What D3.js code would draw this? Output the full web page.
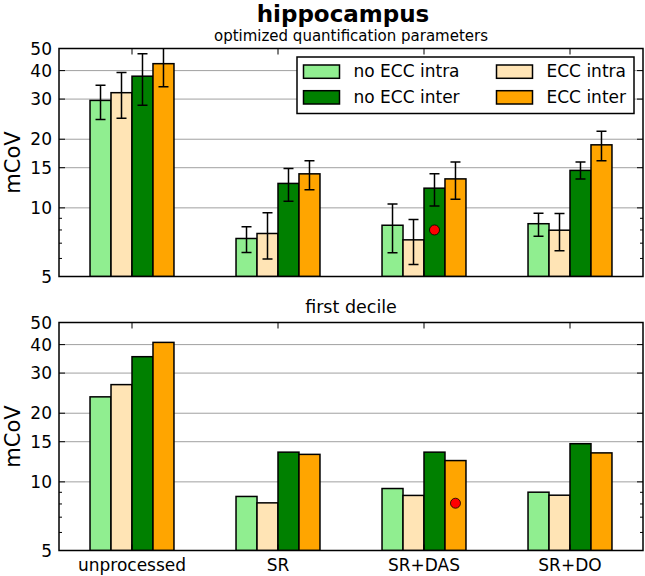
<!DOCTYPE html>
<html><head><meta charset="utf-8">
<script src="https://cdn.jsdelivr.net/npm/d3@7"></script>
<style>body{margin:0;background:#fff}svg{display:block}text{font-family:"DejaVu Sans",sans-serif;fill:#000}</style>
</head><body><svg id="c" width="645" height="576"></svg>
<script>
const categories = ["unprocessed", "SR", "SR+DAS", "SR+DO"];
const series = ["no ECC intra", "ECC intra", "no ECC inter", "ECC inter"];
const colors = ["#90EE90", "#FFE4B5", "#008000", "#FFA500"];
// top panel: mean and error bar extents (per category, per series)
const topValues = [[29.6, 32.0, 37.8, 42.9],[7.34, 7.72, 12.8, 14.1],[8.39, 7.24, 12.2, 13.4],[8.52, 7.98, 14.6, 18.9]];
const topLower  = [[24.4, 24.7, 28.2, 34.0],[6.37, 5.96, 10.7, 12.0],[6.35, 5.64, 10.2, 10.9],[7.51, 6.48, 13.4, 16.1]];
const topUpper  = [[34.5, 39.2, 47.4, 54.0],[8.26, 9.51, 14.9, 16.1],[10.4, 8.89, 14.1, 15.9],[9.48, 9.45, 15.9, 21.7]];
// bottom panel: first decile
const bottomValues = [[23.6, 26.7, 35.4, 40.9],[8.63, 8.09, 13.5, 13.2],[9.35, 8.72, 13.5, 12.4],[9.01, 8.74, 14.7, 13.4]];
// red markers: [category, series, value]
const topMarker = ["SR+DAS", "no ECC inter", 8.0];
const bottomMarker = ["SR+DAS", "ECC inter", 8.06];
const yTicks = [5, 10, 15, 20, 30, 40, 50];
const yMinor = [6, 7, 8, 9];
const gridVals = [10, 15, 20, 30, 40];

const svg = d3.select("#c");
const L = 59, R = 643;
const panels = [
  {top: 48.5, bottom: 276.5, values: topValues, lower: topLower, upper: topUpper, marker: topMarker, title: "optimized quantification parameters", titleY: 41, titleSize: 15, xlabels: false},
  {top: 322.5, bottom: 550.5, values: bottomValues, marker: bottomMarker, title: "first decile", titleY: 313, titleSize: 17.5, xlabels: true}
];

svg.append("text").attr("x", 343).attr("y", 22).attr("text-anchor", "middle")
  .style("font-size", "23px").style("font-weight", "bold").text("hippocampus");

const x = d3.scaleBand().domain(categories).range([L, R]).padding(0);
const bw = x.bandwidth();
const gw = bw * 0.575;
const xs = d3.scaleBand().domain(series).range([bw/2 - gw/2, bw/2 + gw/2]).padding(0);

panels.forEach((p, pi) => {
  const y = d3.scaleLog().domain([5, 50]).range([p.bottom, p.top]);
  const g = svg.append("g");
  const clipId = "clip" + pi;
  svg.append("clipPath").attr("id", clipId).append("rect")
    .attr("x", L).attr("y", p.top).attr("width", R - L).attr("height", p.bottom - p.top);

  // grid
  g.selectAll(".grid").data(gridVals).enter().append("line")
    .attr("x1", L).attr("x2", R).attr("y1", d => y(d)).attr("y2", d => y(d))
    .attr("stroke", "#a0a0a0").attr("stroke-width", 1);

  // bars
  const flat = [];
  categories.forEach((c, ci) => series.forEach((s, si) => {
    flat.push({c, s, si, v: p.values[ci][si], lo: p.lower ? p.lower[ci][si] : null, hi: p.upper ? p.upper[ci][si] : null});
  }));
  const bars = g.append("g").attr("clip-path", `url(#${clipId})`);
  bars.selectAll("rect").data(flat).enter().append("rect")
    .attr("x", d => x(d.c) + xs(d.s))
    .attr("width", xs.bandwidth())
    .attr("y", d => y(d.v))
    .attr("height", d => p.bottom - y(d.v))
    .attr("fill", d => colors[d.si])
    .attr("stroke", "#000").attr("stroke-width", 1.5);

  // error bars
  if (p.lower) {
    const eb = bars.append("g").attr("stroke", "#000").attr("stroke-width", 1.5);
    flat.forEach(d => {
      const cx = x(d.c) + xs(d.s) + xs.bandwidth()/2;
      eb.append("line").attr("x1", cx).attr("x2", cx).attr("y1", y(d.lo)).attr("y2", y(d.hi));
      eb.append("line").attr("x1", cx - 5).attr("x2", cx + 5).attr("y1", y(d.lo)).attr("y2", y(d.lo));
      eb.append("line").attr("x1", cx - 5).attr("x2", cx + 5).attr("y1", y(d.hi)).attr("y2", y(d.hi));
    });
  }

  // marker
  const m = p.marker;
  g.append("circle").attr("cx", x(m[0]) + xs(m[1]) + xs.bandwidth()/2).attr("cy", y(m[2]))
    .attr("r", 5).attr("fill", "#ff0000").attr("stroke", "#000").attr("stroke-width", 0.8);

  // ticks (inward), left and right
  const tk = g.append("g").attr("stroke", "#000").attr("stroke-width", 1);
  yTicks.forEach(v => {
    tk.append("line").attr("x1", L).attr("x2", L + 6).attr("y1", y(v)).attr("y2", y(v));
    tk.append("line").attr("x1", R - 6).attr("x2", R).attr("y1", y(v)).attr("y2", y(v));
  });
  yMinor.forEach(v => {
    tk.append("line").attr("x1", L).attr("x2", L + 3).attr("y1", y(v)).attr("y2", y(v));
    tk.append("line").attr("x1", R - 3).attr("x2", R).attr("y1", y(v)).attr("y2", y(v));
  });
  categories.forEach(c => {
    const cx = x(c) + bw/2;
    tk.append("line").attr("x1", cx).attr("x2", cx).attr("y1", p.top).attr("y2", p.top + 6);
    tk.append("line").attr("x1", cx).attr("x2", cx).attr("y1", p.bottom - 6).attr("y2", p.bottom);
  });

  // y tick labels
  g.selectAll(".yl").data(yTicks).enter().append("text")
    .attr("x", L - 7).attr("y", d => y(d) + 6.2).attr("text-anchor", "end")
    .style("font-size", "17px").text(d => d);

  // y label
  g.append("text").attr("transform", `translate(20,${(p.top + p.bottom)/2}) rotate(-90)`)
    .attr("text-anchor", "middle").style("font-size", "21px").text("mCoV");

  // title
  g.append("text").attr("x", (L + R)/2).attr("y", p.titleY).attr("text-anchor", "middle")
    .style("font-size", p.titleSize + "px").text(p.title);

  // x labels
  if (p.xlabels) {
    g.selectAll(".xl").data(categories).enter().append("text")
      .attr("x", d => x(d) + bw/2).attr("y", 571).attr("text-anchor", "middle")
      .style("font-size", "17px").text(d => d);
  }

  // legend
  if (pi === 0) {
    const lg = g.append("g");
    lg.append("rect").attr("x", 297).attr("y", 57).attr("width", 337).attr("height", 56.5)
      .attr("fill", "#fff").attr("stroke", "#000").attr("stroke-width", 1.5);
    const order = [0, 2, 1, 3];
    order.forEach((si, k) => {
      const col = Math.floor(k / 2), row = k % 2;
      const sx = col === 0 ? 303.5 : 496.5;
      const sy = 65 + row * 25.7;
      lg.append("rect").attr("x", sx).attr("y", sy).attr("width", 36).attr("height", 13.3)
        .attr("fill", colors[si]).attr("stroke", "#000").attr("stroke-width", 1.5);
      lg.append("text").attr("x", col === 0 ? 353.5 : 546.5).attr("y", sy + 12.3)
        .style("font-size", "17px").text(series[si]);
    });
  }

  // frame
  g.append("rect").attr("x", L).attr("y", p.top).attr("width", R - L).attr("height", p.bottom - p.top)
    .attr("fill", "none").attr("stroke", "#000").attr("stroke-width", 1.5);
});
</script></body></html>
